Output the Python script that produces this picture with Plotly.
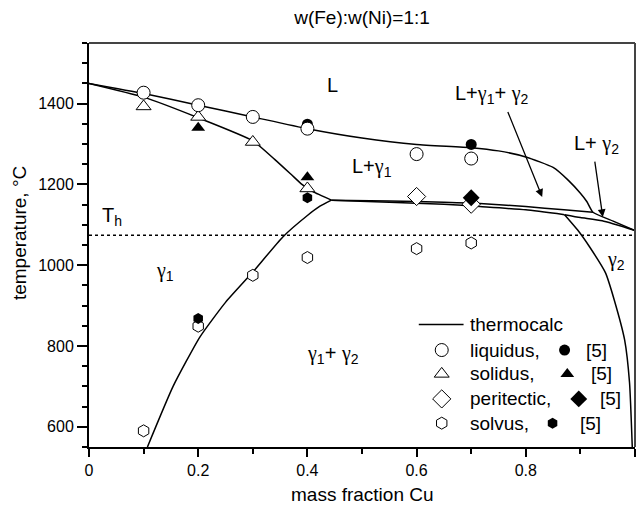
import plotly.graph_objects as go

FONT = "Liberation Sans, Arial, sans-serif"
G = "<span style=\"font-family:'Liberation Serif', 'DejaVu Serif', serif\">γ</span>"

# ---- thermocalc calculated boundaries ----
liq_x = [0, 0.1, 0.2, 0.3, 0.4, 0.5, 0.6, 0.7, 0.75, 0.8, 0.85, 0.878, 0.9, 0.912, 0.923, 0.96, 1.0]
liq_y = [1450, 1425, 1396, 1367, 1338, 1315, 1299, 1291, 1283, 1268, 1242, 1210, 1178, 1157, 1131, 1109, 1086]

sol_x = [0, 0.1, 0.2, 0.3, 0.34, 0.37, 0.39, 0.41, 0.444]
sol_y = [1450, 1416, 1365, 1308, 1262, 1225, 1200, 1182, 1161]

solv1_x = [0.107, 0.154, 0.203, 0.25, 0.3, 0.355, 0.4, 0.423, 0.444]
solv1_y = [550, 700, 822, 908, 983, 1070, 1123, 1146, 1161]

per_up_x = [0.444, 0.55, 0.65, 0.716, 0.8, 0.87, 0.923]
per_up_y = [1161, 1159, 1156, 1153, 1145, 1137, 1131]

per_lo_x = [0.444, 0.55, 0.65, 0.716, 0.8, 0.871]
per_lo_y = [1161, 1156, 1151, 1145, 1137, 1125]

sol2_x = [0.871, 0.9, 0.94, 1.0]
sol2_y = [1125, 1118, 1110, 1086]

solv2_x = [0.871, 0.895, 0.917, 0.946, 0.962, 0.981, 0.990, 0.995]
solv2_y = [1125, 1087, 1045, 981, 914, 815, 709, 550]

TH = 1074

# ---- experimental points ----
liq_open_x = [0.1, 0.2, 0.3, 0.4, 0.6, 0.7]
liq_open_y = [1427, 1396, 1367, 1338, 1275, 1264]
liq_ref_x = [0.2, 0.4, 0.7]
liq_ref_y = [1395, 1349, 1299]

sol_open_x = [0.1, 0.2, 0.3, 0.4]
sol_open_y = [1393, 1367, 1305, 1190]
sol_ref_x = [0.2, 0.4]
sol_ref_y = [1340, 1218]

per_open_x = [0.6, 0.7]
per_open_y = [1170, 1151]
per_ref_x = [0.7]
per_ref_y = [1167]

solv_open_x = [0.1, 0.2, 0.3, 0.4, 0.6, 0.7]
solv_open_y = [590, 849, 975, 1019, 1041, 1055]
solv_ref_x = [0.2, 0.4]
solv_ref_y = [868, 1167]

x_tickvals = [0, 0.2, 0.4, 0.6, 0.8, 1.0]
x_ticktext = ["0", "0.2", "0.4", "0.6", "0.8", "1"]
y_tickvals = [600, 800, 1000, 1200, 1400]
y_ticktext = ["600", "800", "1000", "1200", "1400"]

legend_labels = ["thermocalc", "liquidus,", "solidus,", "peritectic,", "solvus,"]
ref_label = "[5]"

fig = go.Figure()

line_style = dict(color="black", width=1.5, shape="spline", smoothing=0.5)
for xs, ys in [(liq_x, liq_y), (sol_x, sol_y), (solv1_x, solv1_y), (per_up_x, per_up_y),
               (per_lo_x, per_lo_y), (sol2_x, sol2_y), (solv2_x, solv2_y)]:
    fig.add_trace(go.Scatter(x=xs, y=ys, mode="lines", line=line_style,
                             showlegend=False, hoverinfo="skip"))

def open_marker(sym, size):
    return dict(symbol=sym, size=size, color="white", line=dict(color="black", width=1))

def filled_marker(sym, size):
    return dict(symbol=sym, size=size, color="black", line=dict(color="black", width=0))

fig.add_trace(go.Scatter(x=solv_open_x, y=solv_open_y, mode="markers", marker=open_marker("hexagon", 12), showlegend=False))
fig.add_trace(go.Scatter(x=per_open_x, y=per_open_y, mode="markers", marker=open_marker("diamond", 14), showlegend=False))
fig.add_trace(go.Scatter(x=sol_open_x, y=sol_open_y, mode="markers", marker=open_marker("triangle-up", 13), showlegend=False))
fig.add_trace(go.Scatter(x=liq_ref_x, y=liq_ref_y, mode="markers", marker=filled_marker("circle", 11), showlegend=False))
fig.add_trace(go.Scatter(x=liq_open_x, y=liq_open_y, mode="markers", marker=open_marker("circle", 13), showlegend=False))
fig.add_trace(go.Scatter(x=sol_ref_x, y=sol_ref_y, mode="markers", marker=filled_marker("triangle-up", 12), showlegend=False))
fig.add_trace(go.Scatter(x=per_ref_x, y=per_ref_y, mode="markers", marker=filled_marker("diamond", 13), showlegend=False))
fig.add_trace(go.Scatter(x=solv_ref_x, y=solv_ref_y, mode="markers", marker=filled_marker("hexagon", 11), showlegend=False))

# ---- custom legend on an overlay axis (0..1 of plot area) ----
rows_y = [0.303, 0.240, 0.181, 0.119, 0.059]
fig.add_trace(go.Scatter(x=[0.604, 0.686], y=[rows_y[0]] * 2, mode="lines",
                         line=dict(color="black", width=1.5), xaxis="x2", yaxis="y2", showlegend=False))
open_syms = [("circle", 13), ("triangle-up", 13), ("diamond", 14), ("hexagon", 12)]
filled_syms = [("circle", 11), ("triangle-up", 12), ("diamond", 13), ("hexagon", 11)]
filled_x = [0.871, 0.876, 0.897, 0.849]
ref_x = [0.906, 0.915, 0.933, 0.895]
for i in range(4):
    fig.add_trace(go.Scatter(x=[0.646], y=[rows_y[i + 1]], mode="markers",
                             marker=open_marker(*open_syms[i]), xaxis="x2", yaxis="y2", showlegend=False))
    fig.add_trace(go.Scatter(x=[filled_x[i]], y=[rows_y[i + 1]], mode="markers",
                             marker=filled_marker(*filled_syms[i]), xaxis="x2", yaxis="y2", showlegend=False))

annotations = []
for i, lab in enumerate(legend_labels):
    annotations.append(dict(xref="paper", yref="paper", x=0.695, y=rows_y[i], text=lab,
                            showarrow=False, xanchor="left", yanchor="middle",
                            font=dict(size=19, family=FONT, color="black")))
for i in range(4):
    annotations.append(dict(xref="paper", yref="paper", x=ref_x[i], y=rows_y[i + 1], text=ref_label,
                            showarrow=False, xanchor="left", yanchor="middle",
                            font=dict(size=19, family=FONT, color="black")))

lab_font = dict(size=20, family=FONT, color="black")
region_labels = [
    ("L", 0.446, 1447),
    ("L+" + G + "<sub>1</sub>+ " + G + "<sub>2</sub>", 0.739, 1423),
    ("L+ " + G + "<sub>2</sub>", 0.930, 1300),
    ("L+" + G + "<sub>1</sub>", 0.518, 1243),
    ("T<sub>h</sub>", 0.042, 1120),
    (G + "<sub>1</sub>", 0.139, 985),
    (G + "<sub>1</sub>+ " + G + "<sub>2</sub>", 0.447, 778),
    (G + "<sub>2</sub>", 0.966, 1012),
]
for t, x, y in region_labels:
    annotations.append(dict(x=x, y=y, xref="x", yref="y", text=t, showarrow=False, font=lab_font))

for hx, hy, tx, ty in [(0.830, 1169, 0.766, 1383), (0.941, 1119, 0.926, 1260)]:
    annotations.append(dict(x=hx, y=hy, ax=tx, ay=ty, xref="x", yref="y", axref="x", ayref="y",
                            text="", showarrow=True, arrowhead=2, arrowsize=1.2, arrowwidth=1.3,
                            arrowcolor="black"))

annotations.append(dict(xref="paper", yref="paper", x=0.5, y=-0.117, text="mass fraction Cu",
                        showarrow=False, xanchor="center", yanchor="middle",
                        font=dict(size=19, family=FONT, color="black")))
annotations.append(dict(xref="paper", yref="paper", x=-0.126, y=0.53, text="temperature, °C",
                        showarrow=False, textangle=-90, xanchor="center", yanchor="middle",
                        font=dict(size=19, family=FONT, color="black")))

shapes = [
    dict(type="line", xref="paper", yref="y", x0=0, x1=1, y0=TH, y1=TH,
         line=dict(color="black", width=1.5, dash="dot")),
    dict(type="line", xref="paper", yref="paper", x0=0, x1=1, y0=1, y1=1,
         line=dict(color="#444444", width=2)),
    dict(type="line", xref="paper", yref="paper", x0=1, x1=1, y0=0, y1=1,
         line=dict(color="#444444", width=2)),
]

fig.update_layout(
    width=636, height=506,
    margin=dict(l=89, r=1, t=43, b=59, autoexpand=False),
    paper_bgcolor="white", plot_bgcolor="white",
    font=dict(family=FONT, color="black"),
    title=dict(text="w(Fe):w(Ni)=1:1", x=0.5, xref="paper", y=1 - 17 / 506, yref="container",
               xanchor="center", yanchor="middle", font=dict(size=19, family=FONT, color="black")),
    xaxis=dict(range=[0, 1], showgrid=False, zeroline=False, showline=True, linecolor="black",
               linewidth=2, ticks="outside", ticklen=8, tickwidth=1.5, tickcolor="black",
               tickmode="array", tickvals=x_tickvals, ticktext=x_ticktext, automargin=False,
               tickfont=dict(size=16, family=FONT),
               minor=dict(tickmode="linear", tick0=0, dtick=0.1, ticks="outside", ticklen=5,
                          tickwidth=1.5, tickcolor="black")),
    yaxis=dict(range=[550, 1550], showgrid=False, zeroline=False, showline=True, linecolor="black",
               linewidth=2, ticks="outside", ticklen=10, tickwidth=1.5, tickcolor="black",
               tickmode="array", tickvals=y_tickvals, ticktext=y_ticktext, automargin=False,
               tickfont=dict(size=16, family=FONT),
               minor=dict(tickmode="linear", tick0=600, dtick=50, ticks="outside", ticklen=5,
                          tickwidth=1.5, tickcolor="black")),
    xaxis2=dict(range=[0, 1], overlaying="x", visible=False, fixedrange=True, automargin=False),
    yaxis2=dict(range=[0, 1], overlaying="y", visible=False, fixedrange=True, automargin=False),
    annotations=annotations,
    shapes=shapes,
)

fig.write_html("out.html", config={"displayModeBar": False},
               post_script="document.body.style.margin='0';document.body.style.padding='0';")
